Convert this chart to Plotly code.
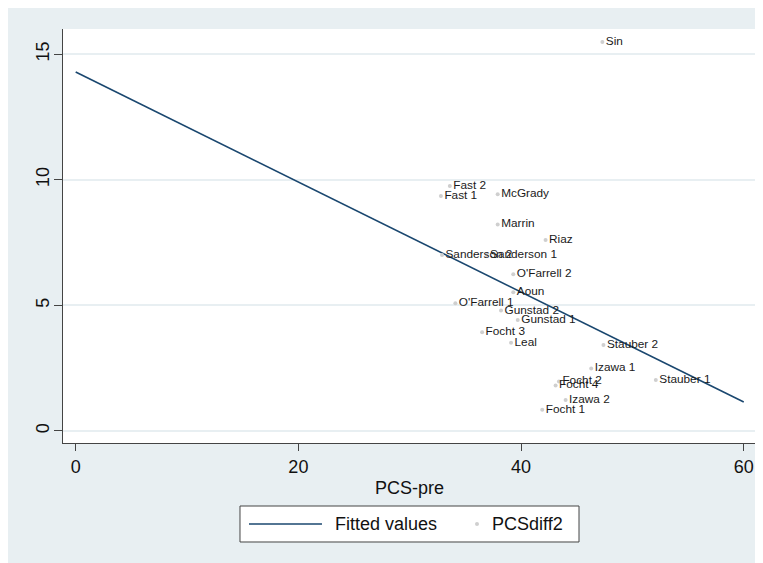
import plotly.graph_objects as go

# ---- data ----
labels = ["Sin", "Fast 2", "Fast 1", "McGrady", "Marrin", "Riaz",
          "Sanderson 2", "Sanderson 1", "O'Farrell 2", "Aoun", "O'Farrell 1",
          "Gunstad 2", "Gunstad 1", "Focht 3", "Leal", "Stauber 2",
          "Izawa 1", "Stauber 1", "Focht 2", "Focht 4", "Izawa 2", "Focht 1"]
pcs_pre = [47.3, 33.6, 32.8, 37.9, 37.9, 42.2,
           32.9, 36.9, 39.3, 39.3, 34.1,
           38.2, 39.7, 36.5, 39.1, 47.4,
           46.3, 52.1, 43.4, 43.1, 44.0, 41.9]
pcsdiff2 = [15.48, 9.75, 9.35, 9.42, 8.22, 7.60,
            7.00, 7.00, 6.24, 5.52, 5.08,
            4.79, 4.42, 3.93, 3.51, 3.42,
            2.49, 2.03, 1.97, 1.81, 1.23, 0.84]

fit_x = [0, 60]
fit_y = [14.29, 1.15]

x_ticks = [0, 20, 40, 60]
y_ticks = [0, 5, 10, 15]

series_names = ["Fitted values", "PCSdiff2"]

FONT = "Liberation Sans, Arial, Helvetica, sans-serif"
BG = "#e8eff2"
NAVY = "#1a476f"
DOT = "#cfcfcf"

fig = go.Figure()
fig.add_trace(go.Scatter(
    x=fit_x, y=fit_y, mode="lines", name=series_names[0],
    line=dict(color=NAVY, width=1.6), showlegend=False))
fig.add_trace(go.Scatter(
    x=pcs_pre, y=pcsdiff2, mode="markers+text", name=series_names[1],
    text=labels, textposition="middle right",
    textfont=dict(family=FONT, size=11.8, color="#1a1a1a"),
    marker=dict(color=DOT, size=4), showlegend=False))

# legend box (Stata style) drawn in paper coordinates
leg_y = -0.1957
shapes = [
    dict(type="rect", xref="paper", yref="paper", x0=0.2554, x1=0.7446,
         y0=-0.2391, y1=-0.1522, fillcolor="white",
         line=dict(color="#444444", width=1)),
    dict(type="line", xref="paper", yref="paper", x0=0.2684, x1=0.3737,
         y0=leg_y, y1=leg_y, line=dict(color=NAVY, width=1.6)),
    dict(type="circle", xref="paper", yref="paper", x0=0.5974 - 0.0029,
         x1=0.5974 + 0.0029, y0=leg_y - 0.0048, y1=leg_y + 0.0048,
         fillcolor=DOT, line=dict(width=0)),
]
annotations = [
    dict(text=series_names[0], xref="paper", yref="paper", x=0.3890,
         y=leg_y, xanchor="left", yanchor="middle", showarrow=False,
         font=dict(size=18)),
    dict(text=series_names[1], xref="paper", yref="paper", x=0.6155,
         y=leg_y, xanchor="left", yanchor="middle", showarrow=False,
         font=dict(size=18)),
]

fig.update_layout(
    width=755, height=555,
    margin=dict(l=55, r=7, t=21, b=120, autoexpand=False),
    paper_bgcolor=BG, plot_bgcolor="white",
    font=dict(family=FONT, size=18, color="#111111"),
    showlegend=False,
    shapes=shapes, annotations=annotations,
)

fig.update_xaxes(
    range=[-1.14, 61.1], tickvals=x_ticks, showgrid=False, zeroline=False,
    showline=True, linecolor="#444444", linewidth=1,
    ticks="outside", ticklen=7, tickcolor="#444444",
    title=dict(text="PCS-pre", standoff=5, font=dict(size=18)),
    tickfont=dict(size=18))
fig.update_yaxes(
    range=[-0.48, 16.0], tickvals=y_ticks, showgrid=True, gridcolor=BG,
    gridwidth=2, zeroline=False, showline=True, linecolor="#444444",
    linewidth=1, ticks="outside", ticklen=8, tickcolor="#444444",
    tickangle=-90, tickfont=dict(size=18), ticklabelstandoff=-2)

fig.write_html("out.html")
